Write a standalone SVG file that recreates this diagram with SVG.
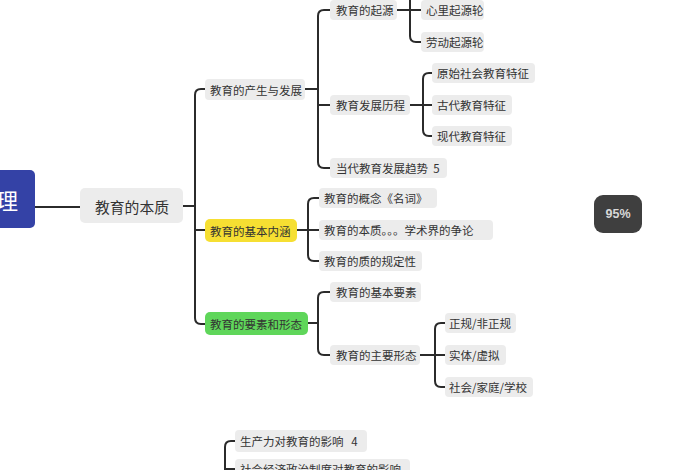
<svg xmlns="http://www.w3.org/2000/svg" width="700" height="470" viewBox="0 0 700 470">
<style>
.b{fill:#ececec}
.t{font-family:"Noto Sans CJK SC","Noto Sans",sans-serif;font-size:11.5px;fill:#333;dominant-baseline:central;white-space:pre}
.c{fill:none;stroke:#2b2b2b;stroke-width:2;stroke-linecap:round;stroke-linejoin:round}
</style>
<rect width="700" height="470" fill="#ffffff"/>
<g id="connectors">
<path class="c" d="M35 207 H80"/>
<path class="c" d="M183 206 H195"/>
<path class="c" d="M205 89 H201 Q195 89 195 95 V318 Q195 324 201 324 H205 M195 230 H205"/>
<path class="c" d="M305 89 H318"/>
<path class="c" d="M330 10 H324 Q318 10 318 16 V162 Q318 168 324 168 H330 M318 105 H330"/>
<path class="c" d="M397 10 H421 M410 -5 V36 Q410 42 416 42 H421"/>
<path class="c" d="M410 105 H432 M432 73 H429 Q423 73 423 79 V130 Q423 136 429 136 H432"/>
<path class="c" d="M297 230 H319 M319 198 H314 Q308 198 308 204 V255 Q308 261 314 261 H319"/>
<path class="c" d="M308 323 H318 M330 292 H324 Q318 292 318 298 V349 Q318 355 324 355 H330"/>
<path class="c" d="M420 355 H445 M445 323 H441 Q435 323 435 329 V381 Q435 387 441 387 H445"/>
<path class="c" d="M235 441 H231 Q225 441 225 447 V475 M225 469 H235"/>
</g>
<g id="root">
<rect x="-20" y="170" width="55" height="58" rx="5" fill="#3442a6"/>
<text x="-4" y="199" font-family="Noto Sans CJK SC,sans-serif" font-size="22" fill="#fff" dominant-baseline="central">理</text>
</g>
<g id="n-essence">
<rect class="b" x="80" y="188" width="103" height="35" rx="5"/>
<text class="t" x="95" y="206" style="font-size:14.8px">教育的本质</text>
</g>
<g id="n-origin-dev">
<rect class="b" x="205" y="79" width="100" height="21" rx="4"/>
<text class="t" x="210" y="89.5">教育的产生与发展</text>
</g>
<g id="n-connotation">
<rect x="205" y="219" width="92" height="23" rx="5" fill="#f6df32"/>
<text class="t" x="210" y="230.5">教育的基本内涵</text>
</g>
<g id="n-elements">
<rect x="205" y="312" width="103" height="23" rx="5" fill="#5fd65a"/>
<text class="t" x="210" y="323.5">教育的要素和形态</text>
</g>
<g id="n-origin">
<rect class="b" x="330" y="0" width="67" height="20" rx="4"/>
<text class="t" x="336" y="10">教育的起源</text>
</g>
<g id="n-history">
<rect class="b" x="330" y="95" width="80" height="20" rx="4"/>
<text class="t" x="336" y="105">教育发展历程</text>
</g>
<g id="n-trend">
<rect class="b" x="330" y="158" width="117" height="20" rx="4"/>
<text class="t" x="336" y="168">当代教育发展趋势  5</text>
</g>
<g id="n-psych">
<rect class="b" x="421" y="0" width="63" height="20" rx="4"/>
<text class="t" x="426" y="10">心里起源轮</text>
</g>
<g id="n-labor">
<rect class="b" x="421" y="32" width="63" height="20" rx="4"/>
<text class="t" x="426" y="42">劳动起源轮</text>
</g>
<g id="n-primitive">
<rect class="b" x="432" y="63" width="103" height="20" rx="4"/>
<text class="t" x="437" y="73">原始社会教育特征</text>
</g>
<g id="n-ancient">
<rect class="b" x="432" y="95" width="80" height="20" rx="4"/>
<text class="t" x="437" y="105">古代教育特征</text>
</g>
<g id="n-modern">
<rect class="b" x="432" y="126" width="80" height="20" rx="4"/>
<text class="t" x="437" y="136">现代教育特征</text>
</g>
<g id="n-concept">
<rect class="b" x="319" y="188" width="118" height="20" rx="4"/>
<text class="t" x="324" y="198">教育的概念《名词》</text>
</g>
<g id="n-nature">
<rect class="b" x="319" y="220" width="174" height="20" rx="4"/>
<text class="t" x="324" y="230">教育的本质。。。学术界的争论</text>
</g>
<g id="n-quality">
<rect class="b" x="319" y="251" width="103" height="20" rx="4"/>
<text class="t" x="324" y="261">教育的质的规定性</text>
</g>
<g id="n-basic">
<rect class="b" x="330" y="282" width="91" height="20" rx="4"/>
<text class="t" x="336" y="292">教育的基本要素</text>
</g>
<g id="n-forms">
<rect class="b" x="330" y="345" width="90" height="20" rx="4"/>
<text class="t" x="336" y="355">教育的主要形态</text>
</g>
<g id="n-formal">
<rect class="b" x="445" y="313" width="71" height="20" rx="4"/>
<text class="t" x="449" y="323">正规/非正规</text>
</g>
<g id="n-virtual">
<rect class="b" x="445" y="345" width="61" height="20" rx="4"/>
<text class="t" x="449" y="355">实体/虚拟</text>
</g>
<g id="n-society">
<rect class="b" x="445" y="377" width="88" height="20" rx="4"/>
<text class="t" x="449" y="387">社会/家庭/学校</text>
</g>
<g id="n-productivity">
<rect class="b" x="235" y="430" width="132" height="22" rx="4"/>
<text class="t" x="240" y="441">生产力对教育的影响   4</text>
</g>
<g id="n-socioeconomic">
<rect class="b" x="235" y="459" width="175" height="22" rx="4"/>
<text class="t" x="240" y="469">社会经济政治制度对教育的影响</text>
</g>
<g id="badge">
<rect x="594" y="195" width="48" height="38" rx="9" fill="#3f3f3f"/>
<text x="618" y="214" text-anchor="middle" dominant-baseline="central" font-family="Liberation Sans,sans-serif" font-size="12.5" font-weight="bold" fill="#d8d8d8">95%</text>
</g>
</svg>
